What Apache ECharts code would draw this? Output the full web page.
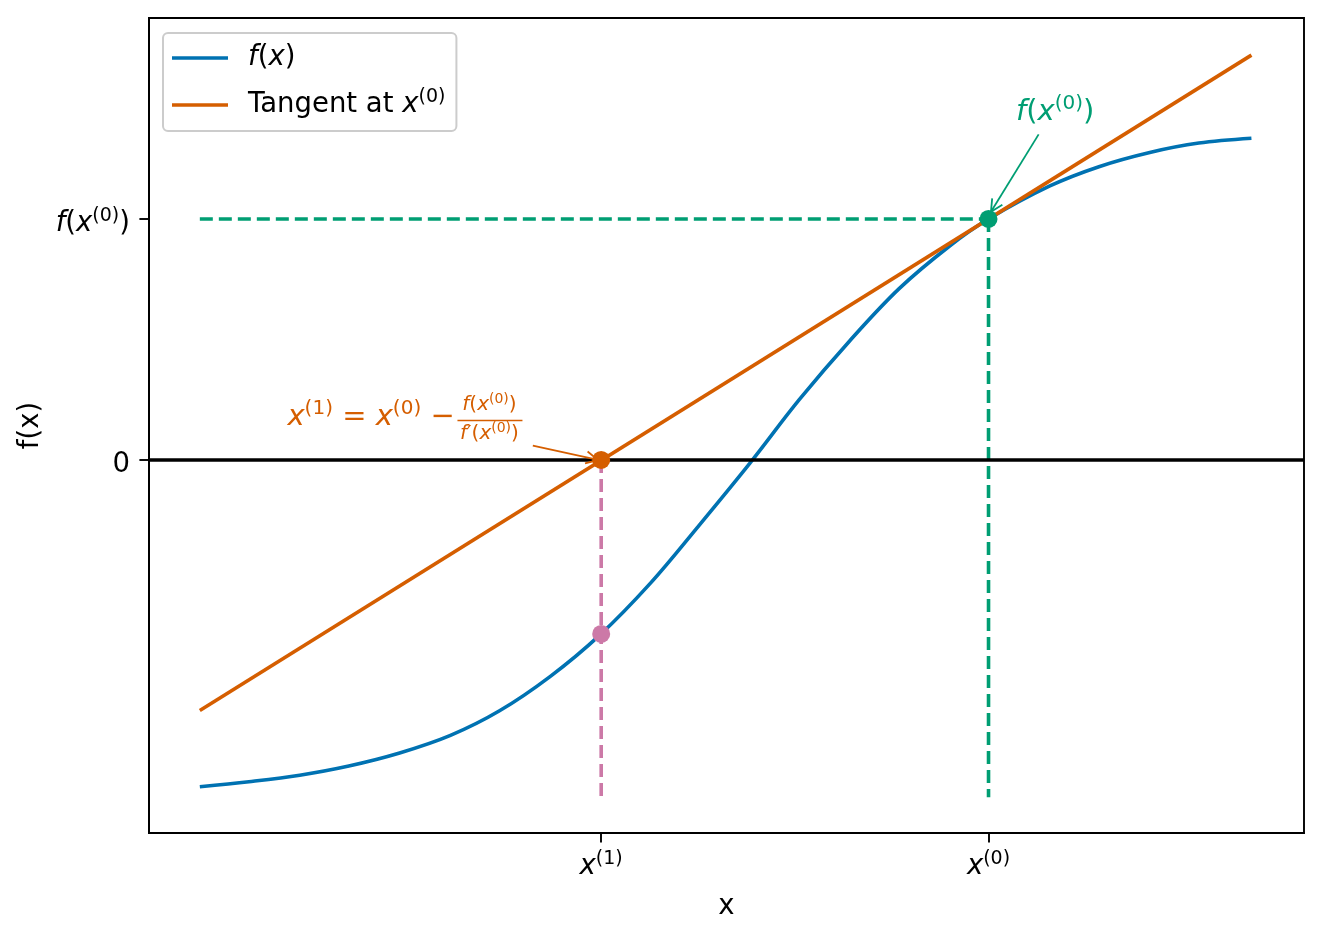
<!DOCTYPE html>
<html>
<head>
<meta charset="utf-8">
<title>Newton step</title>
<script src="https://cdn.jsdelivr.net/npm/echarts@6/dist/echarts.min.js"></script>
<style>
  html, body { margin: 0; padding: 0; background: #fff; }
  #main { width: 1322px; height: 939px; }
</style>
</head>
<body>
<div id="main"></div>
<script>
// f(x)
const curveX = [-3.00, -2.72, -2.43, -2.15, -1.86, -1.57, -1.29, -1.00, -0.72, -0.43, -0.15,
  0.14, 0.42, 0.71, 0.99, 1.28, 1.50, 1.85, 2.13, 2.42, 2.70, 3.00];
const curveY = [-1.356, -1.335, -1.308, -1.270, -1.216, -1.143, -1.041, -0.898, -0.728, -0.512, -0.270,
  -0.012, 0.250, 0.496, 0.711, 0.889, 1.000, 1.137, 1.217, 1.276, 1.315, 1.335];

// tangent at x0, end points
const tangentX = [-3.0, 3.0];
const tangentY = [-1.04, 1.68];

// Newton iterate
const x0 = 1.5, fx0 = 1.0;
const x1 = -0.71, fx1 = -0.722;
const dashLeft = -3.0, dashBottom = -1.40;

// tick positions
const xTicks = [x1, x0];
const yTicks = [0, fx0];

// annotation anchors (data coords)
const formulaAt = [-2.5, 0.178];
const formulaArrow = [[-1.10, 0.059], [-0.728, 0.0]];
const fx0LabelAt = [1.88, 1.444];
const fx0Arrow = [[1.786, 1.351], [1.514, 1.030]];

const FONT = 'DejaVu Sans';
const BLUE = '#0072B2', ORANGE = '#D55E00', GREEN = '#009E73', PINK = '#CC79A7';
const LW = 3.6;
const FS = 27.5;

function mathRich(size, color) {
  const sup = Math.round(size * 0.7);
  return {
    i: { fontStyle: 'italic', fontFamily: FONT, fontSize: size, color: color, fill: color },
    n: { fontFamily: FONT, fontSize: size, color: color, fill: color },
    s: { fontFamily: FONT, fontSize: sup, color: color, fill: color, padding: [0, 0, Math.round(size * 0.55), 0] }
  };
}

const pairs = (xs, ys) => xs.map((x, i) => [x, ys[i]]);

const chart = echarts.init(document.getElementById('main'));

const option = {
  backgroundColor: '#fff',
  animation: false,
  grid: {
    left: 149, right: 18, top: 18, bottom: 106,
    containLabel: false, outerBoundsMode: 'none',
    show: true, borderColor: '#000', borderWidth: 1.9, backgroundColor: 'transparent'
  },
  legend: {
    orient: 'vertical', left: 163, top: 33,
    padding: [11, 11, 12, 9],
    itemWidth: 56, itemHeight: 3.6, itemGap: 16,
    backgroundColor: 'rgba(255,255,255,0.8)',
    borderColor: '#cccccc', borderWidth: 2, borderRadius: 5,
    textStyle: { fontFamily: FONT, fontSize: FS, color: '#000', padding: [0, 0, 0, 15], rich: mathRich(FS, '#000') },
    data: [{ name: 'f(x)', icon: 'rect' }, { name: 'Tangent', icon: 'rect' }],
    formatter: name => name === 'f(x)' ? '{i|f}({i|x})' : 'Tangent at {i|x}{s|(0)}'
  },
  xAxis: {
    type: 'value', min: -3.29, max: 3.30,
    name: 'x', nameLocation: 'middle', nameGap: 60,
    nameTextStyle: { fontFamily: FONT, fontSize: FS, color: '#000' },
    axisLine: { show: true, onZero: false, lineStyle: { color: '#000', width: 1.9 } },
    axisTick: { show: true, inside: false, length: 9.6, customValues: xTicks, lineStyle: { color: '#000', width: 1.9 } },
    axisLabel: {
      show: true, margin: 17, customValues: xTicks,
      fontFamily: FONT, fontSize: FS, color: '#000', rich: mathRich(FS, '#000'),
      formatter: v => v < 0 ? '{i|x}{s|(1)}' : '{i|x}{s|(0)}'
    },
    splitLine: { show: false }
  },
  yAxis: {
    type: 'value', min: -1.548, max: 1.834,
    name: 'f(x)', nameLocation: 'middle', nameGap: 98,
    nameTextStyle: { fontFamily: FONT, fontSize: FS, color: '#000' },
    axisLine: { show: true, onZero: false, lineStyle: { color: '#000', width: 1.9 } },
    axisTick: { show: true, inside: false, length: 9.6, customValues: yTicks, lineStyle: { color: '#000', width: 1.9 } },
    axisLabel: {
      show: true, margin: 19, customValues: yTicks, padding: [10, 0, 0, 0],
      fontFamily: FONT, fontSize: FS, color: '#000', rich: mathRich(FS, '#000'),
      formatter: v => Math.abs(v) < 1e-9 ? '0' : '{i|f}({i|x}{s|(0)})'
    },
    splitLine: { show: false }
  },
  series: [
    {
      name: 'f(x)', type: 'line', data: pairs(curveX, curveY), smooth: 0.35,
      symbol: 'none', color: BLUE, lineStyle: { color: BLUE, width: LW }, z: 2,
      markLine: {
        silent: true, symbol: 'none', label: { show: false },
        lineStyle: { color: '#000', width: LW, type: 'solid' },
        data: [{ yAxis: 0 }]
      }
    },
    {
      name: 'Tangent', type: 'line', data: pairs(tangentX, tangentY),
      symbol: 'none', color: ORANGE, lineStyle: { color: ORANGE, width: LW }, z: 3
    },
    {
      type: 'line', data: [[dashLeft, fx0], [x0, fx0]], symbol: 'none', silent: true,
      lineStyle: { color: GREEN, width: LW, type: [13, 6] }, z: 4
    },
    {
      type: 'line', data: [[x0, fx0], [x0, dashBottom]], symbol: 'none', silent: true,
      lineStyle: { color: GREEN, width: LW, type: [13, 6] }, z: 4
    },
    {
      type: 'line', data: [[x1, 0], [x1, dashBottom]], symbol: 'none', silent: true,
      lineStyle: { color: PINK, width: LW, type: [13, 6] }, z: 4
    },
    { type: 'scatter', data: [[x1, fx1]], symbolSize: 18, itemStyle: { color: PINK, opacity: 1 }, z: 6 },
    { type: 'scatter', data: [[x1, 0]], symbolSize: 18, itemStyle: { color: ORANGE, opacity: 1 }, z: 6 },
    { type: 'scatter', data: [[x0, fx0]], symbolSize: 18, itemStyle: { color: GREEN, opacity: 1 }, z: 6 }
  ]
};

chart.setOption(option);

// annotations: text + arrows placed from data coords
const toPx = p => chart.convertToPixel({ gridIndex: 0 }, p);

function arrow(seg, color) {
  const a = toPx(seg[0]), b = toPx(seg[1]);
  const ang = Math.atan2(b[1] - a[1], b[0] - a[0]);
  const L = 12, W = 6;
  const bx = b[0] - L * Math.cos(ang), by = b[1] - L * Math.sin(ang);
  const nx = -Math.sin(ang) * W, ny = Math.cos(ang) * W;
  return [
    { type: 'line', z: 100, shape: { x1: a[0], y1: a[1], x2: b[0], y2: b[1] }, style: { stroke: color, lineWidth: 1.8 } },
    { type: 'polyline', z: 100, shape: { points: [[bx + nx, by + ny], [b[0], b[1]], [bx - nx, by - ny]] },
      style: { stroke: color, lineWidth: 1.8, fill: null } }
  ];
}

const fa = toPx(formulaAt);
const gl = toPx(fx0LabelAt);

const graphics = [
  {
    type: 'text', z: 100, x: fa[0], y: fa[1],
    style: {
      text: '{i|x}{s|(1)} = {i|x}{s|(0)} \u2212', fill: ORANGE, fontFamily: FONT, fontSize: 29,
      align: 'left', verticalAlign: 'middle', rich: mathRich(29, ORANGE)
    }
  },
  {
    type: 'text', z: 100, x: fa[0] + 202, y: fa[1] - 12,
    style: {
      text: '{i|f}({i|x}{s|(0)})', fill: ORANGE, fontFamily: FONT, fontSize: 20,
      align: 'center', verticalAlign: 'middle', rich: mathRich(20, ORANGE)
    }
  },
  {
    type: 'line', z: 100, shape: { x1: fa[0] + 170, y1: fa[1] + 3.5, x2: fa[0] + 235, y2: fa[1] + 3.5 },
    style: { stroke: ORANGE, lineWidth: 1.5 }
  },
  {
    type: 'text', z: 100, x: fa[0] + 202, y: fa[1] + 17,
    style: {
      text: '{i|f}\u2032({i|x}{s|(0)})', fill: ORANGE, fontFamily: FONT, fontSize: 20,
      align: 'center', verticalAlign: 'middle', rich: mathRich(20, ORANGE)
    }
  },
  {
    type: 'text', z: 100, x: gl[0], y: gl[1],
    style: {
      text: '{i|f}({i|x}{s|(0)})', fill: GREEN, fontFamily: FONT, fontSize: 29,
      align: 'center', verticalAlign: 'middle', rich: mathRich(29, GREEN)
    }
  }
].concat(arrow(formulaArrow, ORANGE), arrow(fx0Arrow, GREEN));

chart.setOption({ graphic: graphics });
</script>
</body>
</html>
